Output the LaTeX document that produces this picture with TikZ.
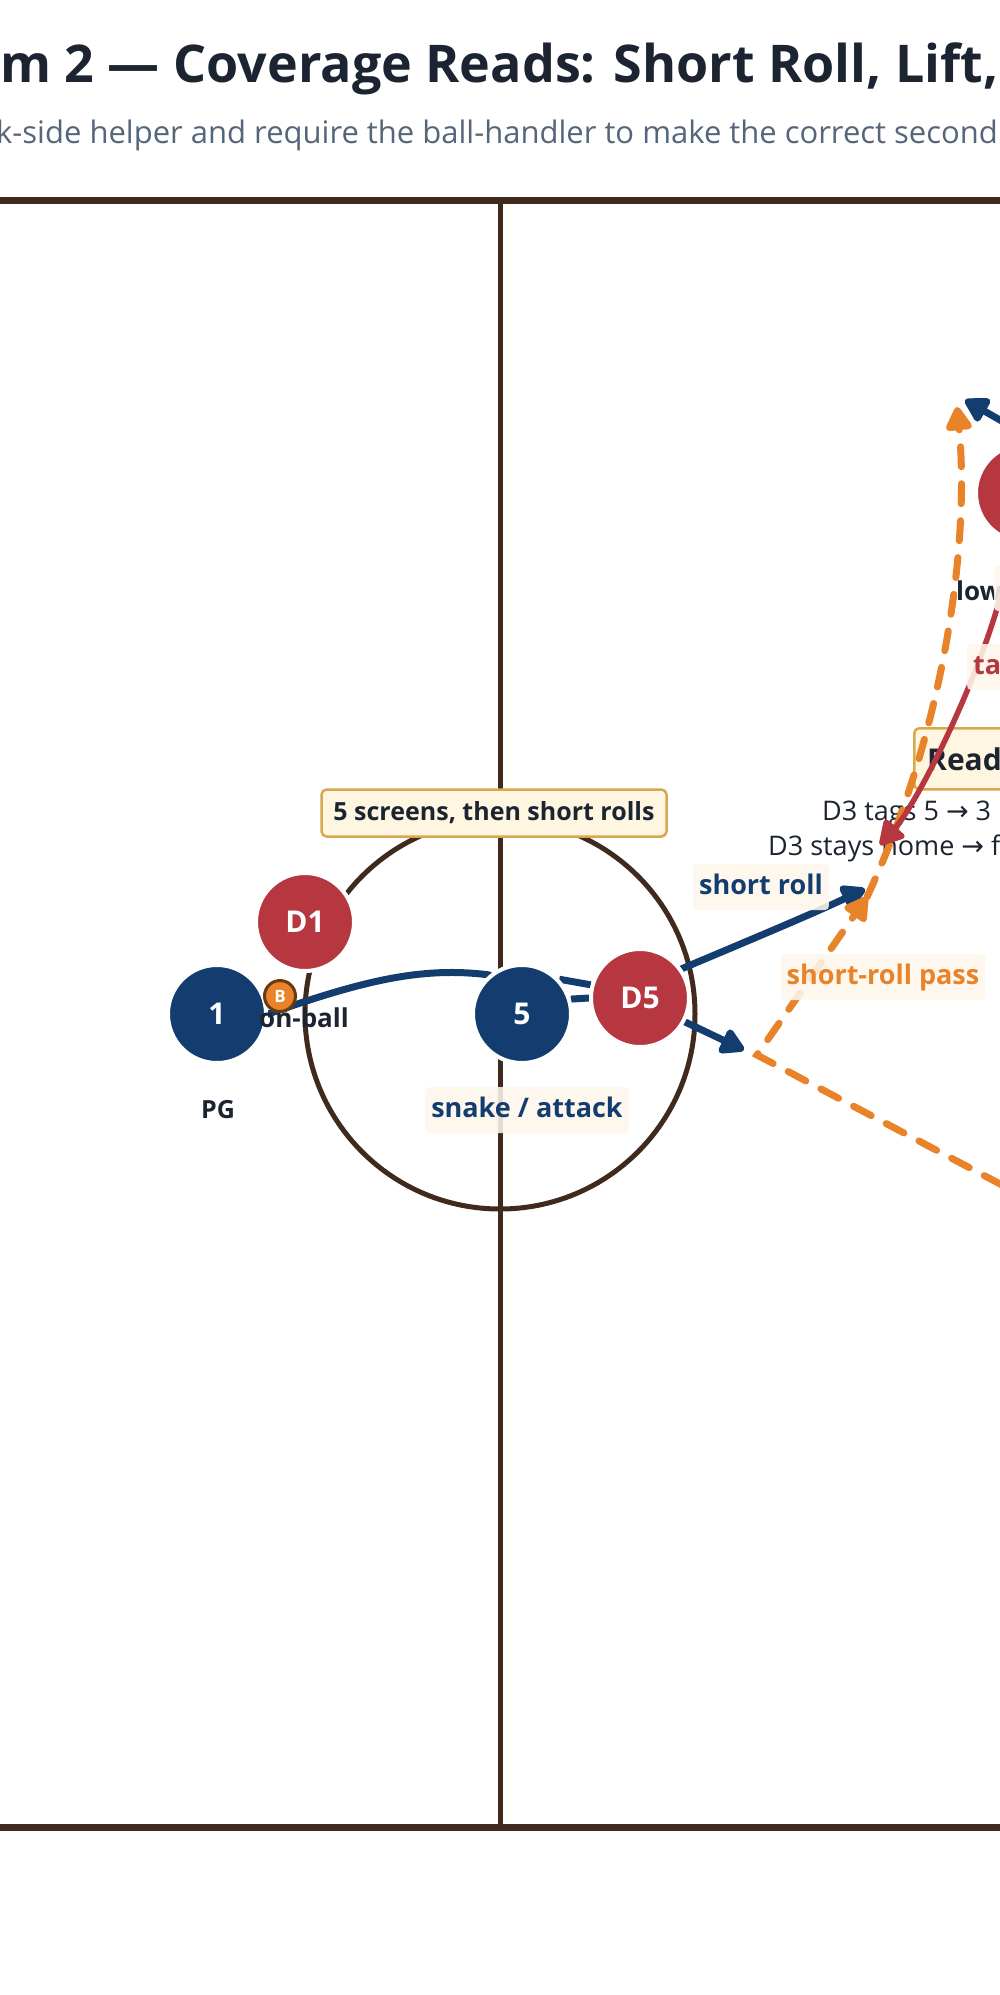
\documentclass[tikz,border=0pt]{standalone}
\usepackage{fontspec}
\setmainfont{Open Sans}
\newfontfamily\arrowfont{DejaVu Sans}
\usetikzlibrary{arrows.meta,positioning}
\pgfdeclarelayer{courtlayer}
\pgfdeclarelayer{routelayer}
\pgfsetlayers{courtlayer,routelayer,main}

\definecolor{court}{HTML}{3F2A1D}
\definecolor{offense}{HTML}{133D6E}
\definecolor{defense}{HTML}{B6373F}
\definecolor{passc}{HTML}{E8832A}
\definecolor{balledge}{HTML}{6A3A14}
\definecolor{ink}{HTML}{1B2430}
\definecolor{subink}{HTML}{55657A}
\definecolor{notefill}{HTML}{FEF6E1}
\definecolor{noteline}{HTML}{D9A84E}
\definecolor{tagfill}{HTML}{FDF6EC}

\begin{document}
\begin{tikzpicture}[x=1pt, y=-1pt,
    player/.style={circle, minimum size=98pt, inner sep=0pt, draw=white, line width=4pt,
      text=white, font=\fontsize{30}{36}\selectfont\bfseries},
    offplayer/.style={player, fill=offense},
    defplayer/.style={player, fill=defense},
    route/.style={line width=7pt, line cap=round, -{Triangle[length=27pt, width=29pt, round]}},
    passroute/.style={route, passc, dash pattern=on 20pt off 17pt},
    routelabel/.style={fill=tagfill, fill opacity=0.88, text opacity=1, rounded corners=4pt,
      inner xsep=6pt, inner ysep=10pt, text height=20pt, text depth=6pt,
      font=\fontsize{27}{32}\selectfont\bfseries},
    notebox/.style={fill=notefill, draw=noteline, line width=2.5pt, rounded corners=5pt, text=ink},
    textlabel/.style={inner sep=0pt, text=ink}]
  \useasboundingbox (0,0) rectangle (1000,1995);

  \node[textlabel, anchor=base west, font=\fontsize{52}{60}\selectfont\bfseries] (title)
    at (0,82) {m 2 — Coverage Reads: Short Roll, Lift,};
  \node[textlabel, anchor=base west, text=subink, font=\fontsize{31}{36}\selectfont] (subtitle)
    at (-4,143) {k-side helper and require the ball-handler to make the correct second};

  % players
  \node[offplayer] (p1) at (217,1014) {1};
  \node[defplayer] (d1) at (305,922) {D1};
  \node[offplayer] (p5) at (522,1014) {5};
  \node[defplayer] (d5) at (640,998) {D5};
  \node[defplayer] (d3) at (1025,493) {};
  \node[circle, fill=passc, draw=balledge, line width=3pt, minimum size=31pt, inner sep=0pt,
    text=white, font=\fontsize{17}{20}\selectfont\bfseries] (ball) at (280,996) {B};

  \coordinate (rolltip) at (865,889);
  \coordinate (divetip) at (744,1050);
  \coordinate (bounce) at (757,1055);
  \coordinate (passfrom) at (1100,1237);
  \coordinate (passtip) at (867,897);
  \coordinate (lifttip) at (957,407);
  \coordinate (tagtip) at (880,845);
  \coordinate (cutfrom) at (1070,460);
  \coordinate (cuttip) at (965,400);

  \begin{pgfonlayer}{courtlayer}
    \draw[court, line width=7pt] (-50,200) -- (1050,200);
    \draw[court, line width=7pt] (-50,1827) -- (1050,1827);
    \draw[court, line width=5pt] (500,200) -- (500,1827);
    \draw[court, line width=5pt] (500,1014) circle[radius=195];
    \node[notebox, anchor=north west, minimum width=200pt, minimum height=61pt] (readbox)
      at (913,727) {};
    \node[textlabel, anchor=base west, font=\fontsize{30}{36}\selectfont\bfseries] (readtitle)
      at (927,770) {Read};
    \node[textlabel, anchor=base west, font=\fontsize{27}{32}\selectfont] (readone)
      at (822,820) {D3 tags 5 {\arrowfont →} 3};
    \node[textlabel, anchor=base west, font=\fontsize{27}{32}\selectfont] (readtwo)
      at (768,855) {D3 stays home {\arrowfont →} f};
  \end{pgfonlayer}

  \begin{pgfonlayer}{routelayer}
    \draw[offense, line width=7pt, line cap=round] (p1.east) .. controls (360,982) and (420,966) .. (p5.130);
    \draw[offense, line width=7pt] (p5.43) -- (d5.165);
    \draw[offense, line width=7pt] (p5.17) -- (d5.180);
    \draw[route, offense] (d5.35) .. controls (745,942) and (810,915) .. (rolltip);
    \draw[route, offense] (d5.-28) -- (divetip);
    \draw[route, offense] (cutfrom) -- (cuttip);
    \draw[passroute] (passfrom) -- (bounce) -- (passtip);
    \draw[passroute] (passtip) .. controls (945,730) and (970,540) .. (lifttip);
    \draw[route, defense, line width=5.5pt] (d3.255) .. controls (1000,640) and (920,800) .. (tagtip);
  \end{pgfonlayer}

  % labels
  \node[textlabel, font=\fontsize{25}{30}\selectfont\bfseries] (pglabel) at (218,1110) {PG};
  \node[textlabel, anchor=base, font=\fontsize{26}{30}\selectfont\bfseries] (onball) at (304,1027) {on-ball};
  \node[textlabel, anchor=base west, font=\fontsize{26}{30}\selectfont\bfseries] (d3label) at (956,600) {low};
  \node[routelabel, anchor=west, minimum width=40pt] (lowtag) at (994,588) {};
  \node[routelabel, text=offense] (snakelabel) at (527,1110) {snake / attack};
  \node[routelabel, text=offense] (rolllabel) at (761,887) {short roll};
  \node[routelabel, text=passc] (passlabel) at (883,977) {short-roll pass};
  \node[routelabel, text=defense, anchor=west] (taglabel) at (967,667) {ta};
  \node[notebox, font=\fontsize{25}{30}\selectfont\bfseries, minimum width=345pt, minimum height=47pt]
    (screennote) at (494,813) {5 screens, then short rolls};
\end{tikzpicture}
\end{document}
